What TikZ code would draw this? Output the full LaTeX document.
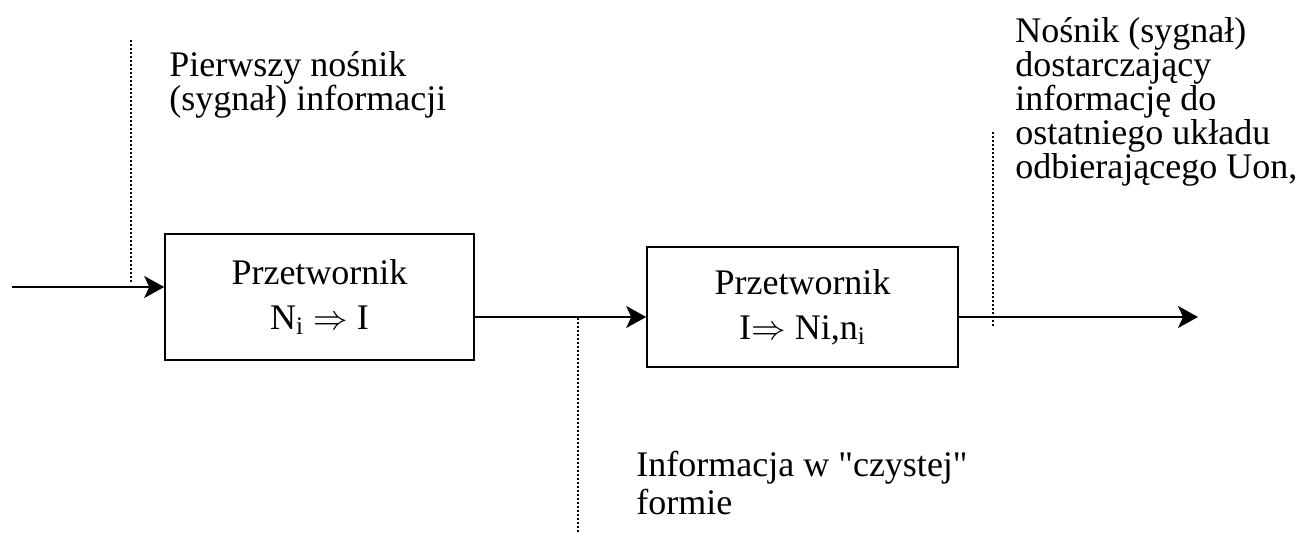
\documentclass[tikz,border=0pt]{standalone}
\usepackage{fontspec}
\setmainfont{Liberation Serif}
\usetikzlibrary{arrows.meta}
\begin{document}
\begin{tikzpicture}[x=0.5pt,y=-0.5pt,
  lbl/.style={font=\fontsize{18}{17}\selectfont, inner sep=0pt, align=left, anchor=north west},
  box/.style={draw, line width=0.8pt, inner sep=0pt,
    font=\fontsize{18}{22.5}\selectfont, align=center},
  conn/.style={line width=0.9pt, -{Stealth[length=10pt,width=11pt,inset=2.5pt]}},
  dots/.style={line width=0.8pt, dash pattern=on 0.8pt off 1.2pt}]
\useasboundingbox (0,0) rectangle (1304,533);
% boxes
\node[box, minimum width=154.5pt, minimum height=63pt] (b1) at (319.5,297)
  {Przetwornik\\N\textsubscript{i} $\Rightarrow$ I};
\node[box, minimum width=155.5pt, minimum height=60pt] (b2) at (802.5,307)
  {Przetwornik\\I$\Rightarrow$ Ni,n\textsubscript{i}};
% free ends
\coordinate (in) at (12,287);
\coordinate (out) at (1198,317);
\coordinate (d1a) at (131,40);
\coordinate (d1b) at (131,283);
\coordinate (d2a) at (578,318);
\coordinate (d2b) at (578,533);
\coordinate (d3a) at (993,132);
\coordinate (d3b) at (993,326);
% connectors
\draw[conn] (in) -- (in -| b1.west);
\draw[conn] (b1.east |- 0,317) -- (b2.west |- 0,317);
\draw[conn] (b2.east |- 0,317) -- (out);
% dotted leaders
\draw[dots] (d1a) -- (d1b);
\draw[dots] (d2a) -- (d2b);
\draw[dots] (d3a) -- (d3b);
% labels
\node[lbl] (t1) at (169,51) {Pierwszy nośnik\\(sygnał) informacji};
\node[lbl] (t2) at (1015,17) {Nośnik (sygnał)\\dostarczający\\informację do\\ostatniego układu\\odbierającego Uon,};
\node[lbl, font=\fontsize{18}{19}\selectfont] (t3) at (636,451) {Informacja w \textquotedbl czystej\textquotedbl\\formie};
\end{tikzpicture}
\end{document}
